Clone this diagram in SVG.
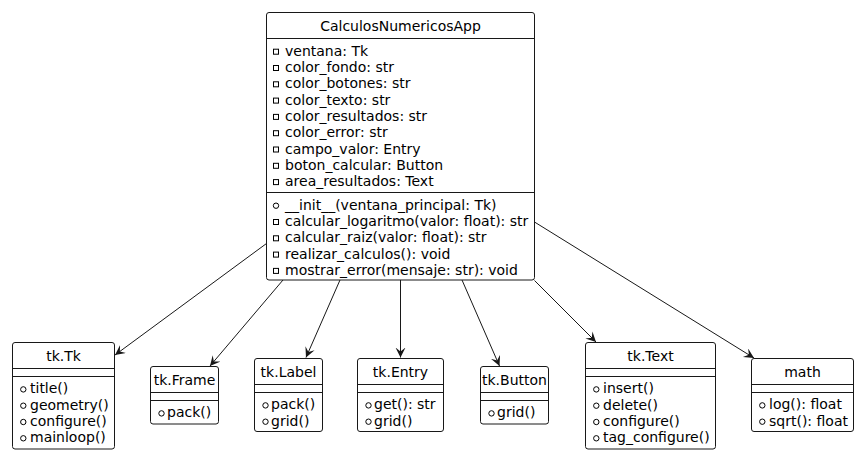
<svg xmlns="http://www.w3.org/2000/svg" width="859" height="455" viewBox="0 0 859 455">
<style>
.box{fill:#fff;stroke:#181818;stroke-width:1}
.sep{stroke:#181818;stroke-width:1}
.t{font-family:"DejaVu Sans",sans-serif;font-size:14px;fill:#000}
.c{text-anchor:middle}
.priv{fill:none;stroke:#000;stroke-width:1}
.pub{fill:none;stroke:#000;stroke-width:1}
.edge{stroke:#181818;stroke-width:1;fill:none;marker-end:url(#arr)}
</style>
<defs>
<marker id="arr" markerUnits="userSpaceOnUse" markerWidth="12" markerHeight="12" refX="10" refY="5" orient="auto">
<path d="M0,0 L10,5 L0,10 L4,5 Z" fill="#181818"/>
</marker>
</defs>
<g id="edges">
<line class="edge" x1="266.5" y1="243.5" x2="115" y2="355"/>
<line class="edge" x1="283" y1="280" x2="210" y2="366"/>
<line class="edge" x1="340" y1="280" x2="306" y2="357.5"/>
<line class="edge" x1="400.5" y1="280" x2="400.5" y2="357.5"/>
<line class="edge" x1="462" y1="280" x2="499.5" y2="366"/>
<line class="edge" x1="534.5" y1="280.5" x2="596" y2="342"/>
<line class="edge" x1="534.5" y1="222" x2="754" y2="358"/>
</g>
<g id="CalculosNumericosApp">
<rect class="box" x="266.5" y="12.5" width="268" height="267.5" rx="2.5"/>
<line class="sep" x1="266.5" y1="38.5" x2="534.5" y2="38.5"/>
<line class="sep" x1="266.5" y1="192.5" x2="534.5" y2="192.5"/>
<text class="t c" x="400.5" y="30.5">CalculosNumericosApp</text>
<rect class="priv" x="273.5" y="49.2" width="5" height="5"/>
<rect class="priv" x="273.5" y="65.5" width="5" height="5"/>
<rect class="priv" x="273.5" y="81.8" width="5" height="5"/>
<rect class="priv" x="273.5" y="98.1" width="5" height="5"/>
<rect class="priv" x="273.5" y="114.4" width="5" height="5"/>
<rect class="priv" x="273.5" y="130.7" width="5" height="5"/>
<rect class="priv" x="273.5" y="147" width="5" height="5"/>
<rect class="priv" x="273.5" y="163.3" width="5" height="5"/>
<rect class="priv" x="273.5" y="179.6" width="5" height="5"/>
<text class="t" x="285" y="55.7">ventana: Tk</text>
<text class="t" x="285" y="72">color_fondo: str</text>
<text class="t" x="285" y="88.3">color_botones: str</text>
<text class="t" x="285" y="104.6">color_texto: str</text>
<text class="t" x="285" y="120.9">color_resultados: str</text>
<text class="t" x="285" y="137.2">color_error: str</text>
<text class="t" x="285" y="153.5">campo_valor: Entry</text>
<text class="t" x="285" y="169.8">boton_calcular: Button</text>
<text class="t" x="285" y="186.1">area_resultados: Text</text>
<circle class="pub" cx="276" cy="205.7" r="2.7"/>
<rect class="priv" x="273.5" y="219.5" width="5" height="5"/>
<rect class="priv" x="273.5" y="235.8" width="5" height="5"/>
<rect class="priv" x="273.5" y="252.1" width="5" height="5"/>
<rect class="priv" x="273.5" y="268.4" width="5" height="5"/>
<text class="t" x="285" y="209.7">__init__(ventana_principal: Tk)</text>
<text class="t" x="285" y="226">calcular_logaritmo(valor: float): str</text>
<text class="t" x="285" y="242.3">calcular_raiz(valor: float): str</text>
<text class="t" x="285" y="258.6">realizar_calculos(): void</text>
<text class="t" x="285" y="274.9">mostrar_error(mensaje: str): void</text>
</g>
<g id="tk.Tk">
<rect class="box" x="12.5" y="342.5" width="102" height="106.5" rx="2.5"/>
<line class="sep" x1="12.5" y1="368.5" x2="114.5" y2="368.5"/>
<line class="sep" x1="12.5" y1="376.5" x2="114.5" y2="376.5"/>
<text class="t c" x="63.5" y="361">tk.Tk</text>
<circle class="pub" cx="23.3" cy="389.4" r="2.7"/>
<circle class="pub" cx="23.3" cy="405.7" r="2.7"/>
<circle class="pub" cx="23.3" cy="422" r="2.7"/>
<circle class="pub" cx="23.3" cy="438.3" r="2.7"/>
<text class="t" x="30" y="393.4">title()</text>
<text class="t" x="30" y="409.7">geometry()</text>
<text class="t" x="30" y="426">configure()</text>
<text class="t" x="30" y="442.3">mainloop()</text>
</g>
<g id="tk.Frame">
<rect class="box" x="150.5" y="366.5" width="68" height="57.5" rx="2.5"/>
<line class="sep" x1="150.5" y1="392.5" x2="218.5" y2="392.5"/>
<line class="sep" x1="150.5" y1="400.5" x2="218.5" y2="400.5"/>
<text class="t c" x="184.5" y="385">tk.Frame</text>
<circle class="pub" cx="161.5" cy="413.4" r="2.7"/>
<text class="t" x="167" y="417.4">pack()</text>
</g>
<g id="tk.Label">
<rect class="box" x="254.5" y="358.5" width="68" height="73" rx="2.5"/>
<line class="sep" x1="254.5" y1="384.5" x2="322.5" y2="384.5"/>
<line class="sep" x1="254.5" y1="392.5" x2="322.5" y2="392.5"/>
<text class="t c" x="288.5" y="377">tk.Label</text>
<circle class="pub" cx="265.5" cy="405.4" r="2.7"/>
<circle class="pub" cx="265.5" cy="421.7" r="2.7"/>
<text class="t" x="271" y="409.4">pack()</text>
<text class="t" x="271" y="425.7">grid()</text>
</g>
<g id="tk.Entry">
<rect class="box" x="357.5" y="358.5" width="86" height="73" rx="2.5"/>
<line class="sep" x1="357.5" y1="384.5" x2="443.5" y2="384.5"/>
<line class="sep" x1="357.5" y1="392.5" x2="443.5" y2="392.5"/>
<text class="t c" x="400.5" y="377">tk.Entry</text>
<circle class="pub" cx="368.5" cy="405.4" r="2.7"/>
<circle class="pub" cx="368.5" cy="421.7" r="2.7"/>
<text class="t" x="374" y="409.4">get(): str</text>
<text class="t" x="374" y="425.7">grid()</text>
</g>
<g id="tk.Button">
<rect class="box" x="480.5" y="366.5" width="68" height="57.5" rx="2.5"/>
<line class="sep" x1="480.5" y1="392.5" x2="548.5" y2="392.5"/>
<line class="sep" x1="480.5" y1="400.5" x2="548.5" y2="400.5"/>
<text class="t c" x="514.5" y="385">tk.Button</text>
<circle class="pub" cx="491.5" cy="413.4" r="2.7"/>
<text class="t" x="497" y="417.4">grid()</text>
</g>
<g id="tk.Text">
<rect class="box" x="585.5" y="342.5" width="130" height="106.5" rx="2.5"/>
<line class="sep" x1="585.5" y1="368.5" x2="715.5" y2="368.5"/>
<line class="sep" x1="585.5" y1="376.5" x2="715.5" y2="376.5"/>
<text class="t c" x="650.5" y="361">tk.Text</text>
<circle class="pub" cx="596.3" cy="389.4" r="2.7"/>
<circle class="pub" cx="596.3" cy="405.7" r="2.7"/>
<circle class="pub" cx="596.3" cy="422" r="2.7"/>
<circle class="pub" cx="596.3" cy="438.3" r="2.7"/>
<text class="t" x="603" y="393.4">insert()</text>
<text class="t" x="603" y="409.7">delete()</text>
<text class="t" x="603" y="426">configure()</text>
<text class="t" x="603" y="442.3">tag_configure()</text>
</g>
<g id="math">
<rect class="box" x="751.5" y="358.5" width="102" height="73" rx="2.5"/>
<line class="sep" x1="751.5" y1="384.5" x2="853.5" y2="384.5"/>
<line class="sep" x1="751.5" y1="392.5" x2="853.5" y2="392.5"/>
<text class="t c" x="802.5" y="377">math</text>
<circle class="pub" cx="762.3" cy="405.4" r="2.7"/>
<circle class="pub" cx="762.3" cy="421.7" r="2.7"/>
<text class="t" x="769" y="409.4">log(): float</text>
<text class="t" x="769" y="425.7">sqrt(): float</text>
</g>
</svg>
